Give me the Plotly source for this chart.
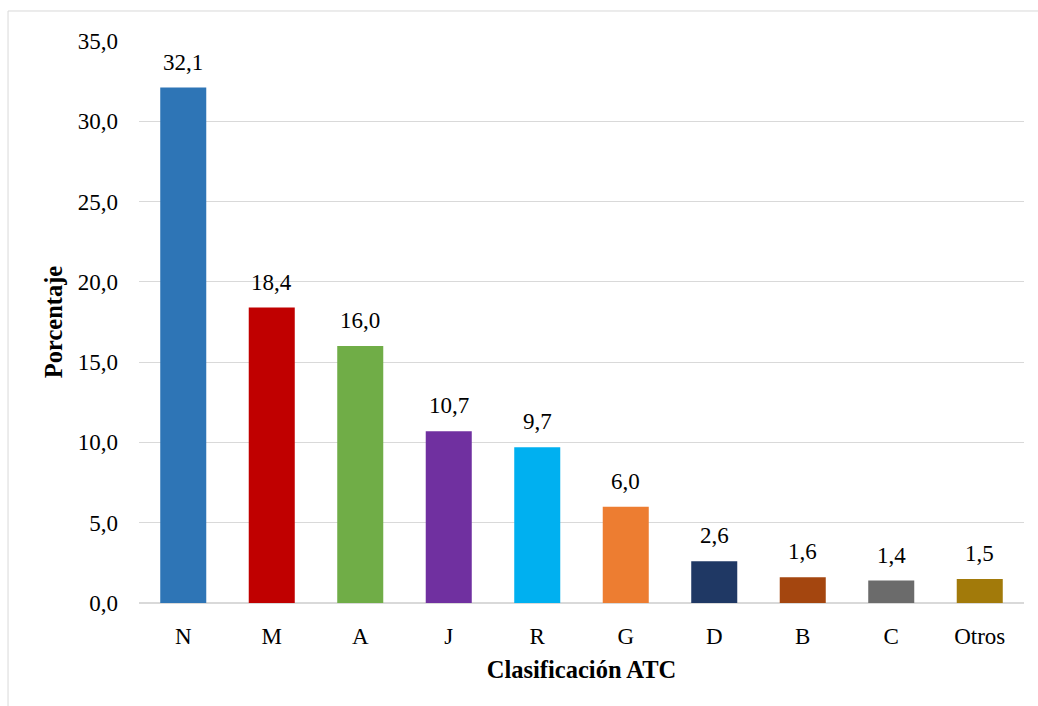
import plotly.graph_objects as go

# Distribución por clasificación ATC (porcentaje)
categorias = ["N", "M", "A", "J", "R", "G", "D", "B", "C", "Otros"]
porcentajes = [32.1, 18.4, 16.0, 10.7, 9.7, 6.0, 2.6, 1.6, 1.4, 1.5]
colores = ["#2E75B6", "#C00000", "#70AD47", "#7030A0", "#00B0F0",
           "#ED7D31", "#1F3864", "#A4460F", "#6B6B6B", "#A27A0A"]

fuente = "Liberation Serif, Times New Roman, serif"
tam = 23
tam_titulo = 24.5

fig = go.Figure(
    go.Bar(
        x=categorias,
        y=porcentajes,
        marker=dict(color=colores, line=dict(width=0)),
        width=0.52,
        cliponaxis=False,
    )
)

# Etiquetas de valor sobre cada barra
etiquetas = [
    dict(x=c, y=v, text=f"{v:.1f}".replace(".", ","), showarrow=False,
         xanchor="center", yanchor="bottom", yshift=11,
         font=dict(family=fuente, size=tam, color="#000000"))
    for c, v in zip(categorias, porcentajes)
]

fig.update_layout(
    width=1038,
    height=706,
    margin=dict(l=139, r=14, t=41, b=103),
    paper_bgcolor="white",
    plot_bgcolor="white",
    separators=",.",
    showlegend=False,
    font=dict(family=fuente, size=tam, color="#000000"),
    annotations=etiquetas,
    shapes=[
        dict(type="rect", xref="paper", yref="paper",
             x0=-0.148, x1=1.1, y0=-0.4, y1=1.0534,
             line=dict(color="#D9D9D9", width=1), fillcolor="rgba(0,0,0,0)",
             layer="below"),
    ],
)

fig.update_yaxes(
    range=[0, 35],
    dtick=5,
    tickformat=".1f",
    showgrid=True,
    gridcolor="#D9D9D9",
    gridwidth=1,
    zeroline=True,
    zerolinecolor="#D9D9D9",
    showline=False,
    ticks="",
    ticklabelstandoff=20,
    title=dict(text="<b>Porcentaje</b>", font=dict(family=fuente, size=tam_titulo), standoff=8),
)

fig.update_xaxes(
    showline=True,
    linecolor="#D9D9D9",
    linewidth=1,
    ticks="",
    ticklabelstandoff=12,
    title=dict(text="<b>Clasificación ATC</b>", font=dict(family=fuente, size=tam_titulo), standoff=13),
)

fig.write_html("out.html")
